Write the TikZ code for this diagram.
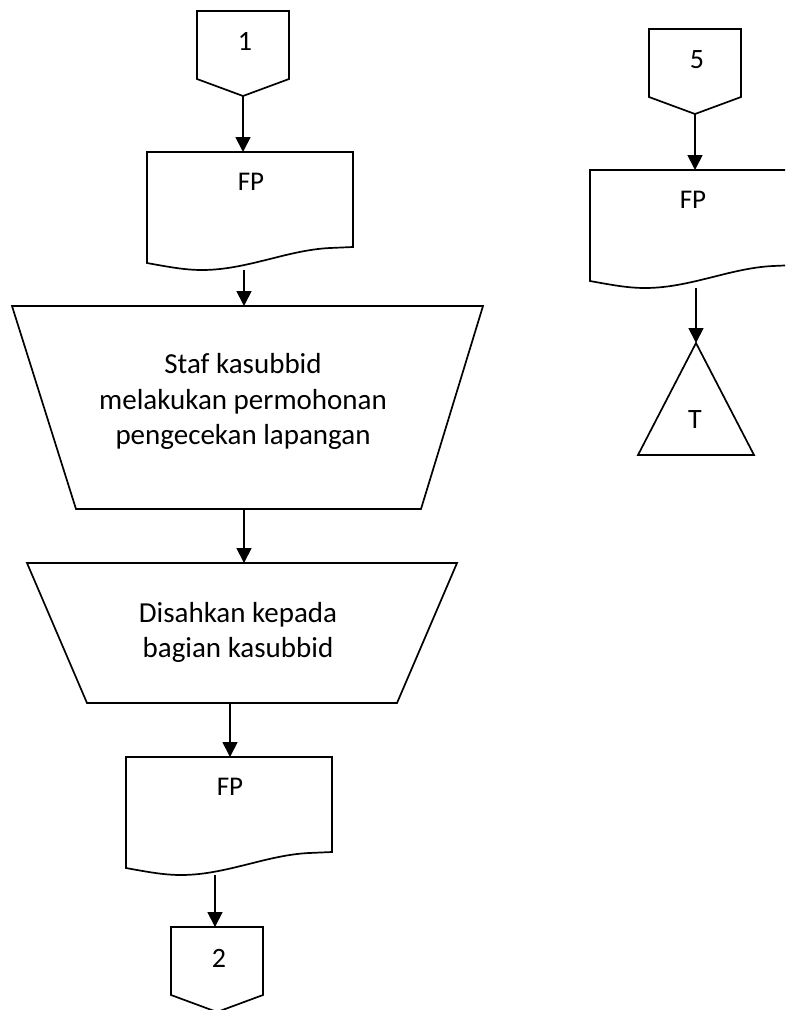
\documentclass[tikz,border=0pt]{standalone}
\usepackage{fontspec}
\setmainfont{Carlito}
\usetikzlibrary{arrows.meta}
\tikzset{
  frame/.style={draw=none, inner sep=0pt, outer sep=0pt, anchor=north west},
  outline/.style={line width=1.7pt, line join=miter},
  link/.style={line width=1.8pt, -{Triangle[width=15pt,length=15pt]}},
  lbl/.style={inner sep=0pt, anchor=base, font=\fontsize{28}{34}\selectfont},
  doclbl/.style={inner sep=0pt, anchor=base, font=\fontsize{27}{33}\selectfont},
  bodytext/.style={inner sep=0pt, align=center, font=\fontsize{29}{35.5}\selectfont},
}
\begin{document}
\begin{tikzpicture}[x=1pt, y=-1pt]
\clip (0,0) rectangle (785,1010);

% frames of the left column
\node[frame, minimum width=92pt,  minimum height=85pt]  (c1) at (197,11)  {};
\node[frame, minimum width=206pt, minimum height=118pt] (d1) at (147,152) {};
\node[frame, minimum width=471pt, minimum height=203pt] (t1) at (12,306)  {};
\node[frame, minimum width=430pt, minimum height=140pt] (t2) at (27,563)  {};
\node[frame, minimum width=206pt, minimum height=118pt] (d2) at (126,757) {};
\node[frame, minimum width=92pt,  minimum height=85pt]  (c2) at (171,927) {};
% frames of the right column
\node[frame, minimum width=92pt,  minimum height=85pt]  (c5) at (649,29)  {};
\node[frame, minimum width=206pt, minimum height=118pt] (d3) at (590,170) {};
\node[frame, minimum width=116pt, minimum height=112pt] (tr) at (638,343) {};

% off-page connectors
\foreach \c in {c1,c2,c5}
  \draw[outline, shift={(\c.north west)}] (0,0) -- (92,0) -- (92,68) -- (46,85) -- (0,68) -- cycle;

% documents
\foreach \d in {d1,d2,d3}
  \draw[outline, shift={(\d.north west)}] (0,0) -- (206,0) -- (206,95) -- (183,96)
    .. controls (140,98) and (100,118) .. (55,118)
    .. controls (38,118) and (22,115) .. (0,111) -- cycle;

% manual operations
\draw[outline, shift={(t1.north west)}] (0,0) -- (471,0) -- (409,203) -- (64,203) -- cycle;
\draw[outline, shift={(t2.north west)}] (0,0) -- (430,0) -- (370,140) -- (60,140) -- cycle;

% terminator triangle
\draw[outline, shift={(tr.north west)}] (58,0) -- (116,112) -- (0,112) -- cycle;

% labels
\node[lbl]    (c1-t) at (245,50)  {1};
\node[doclbl] (d1-t) at (251,190) {FP};
\node[bodytext] (t1-t) at (243,401.5) {Staf kasubbid\\melakukan permohonan\\pengecekan lapangan};
\node[bodytext] (t2-t) at (238,632.5) {Disahkan kepada\\bagian kasubbid};
\node[doclbl] (d2-t) at (230,795) {FP};
\node[lbl]    (c2-t) at (219,967) {2};
\node[lbl]    (c5-t) at (697,68)  {5};
\node[doclbl] (d3-t) at (693,208) {FP};
\node[lbl]    (tr-t) at (695,428) {T};

% flow
\draw[link] (c1.south) -- (c1.south |- d1.north);
\draw[link] ([xshift=-6pt]d1.south) -- ([xshift=-6pt]d1.south |- t1.north);
\draw[link] ([xshift=-3.5pt]t1.south) -- ([xshift=-3.5pt]t1.south |- t2.north);
\draw[link] ([xshift=-12pt]t2.south) -- ([xshift=-12pt]t2.south |- d2.north);
\draw[link] ([xshift=-14pt]d2.south) -- ([xshift=-14pt]d2.south |- c2.north);
\draw[link] (c5.south) -- (c5.south |- d3.north);
\draw[link] (d3.south -| tr.north) -- (tr.north);
\end{tikzpicture}
\end{document}
